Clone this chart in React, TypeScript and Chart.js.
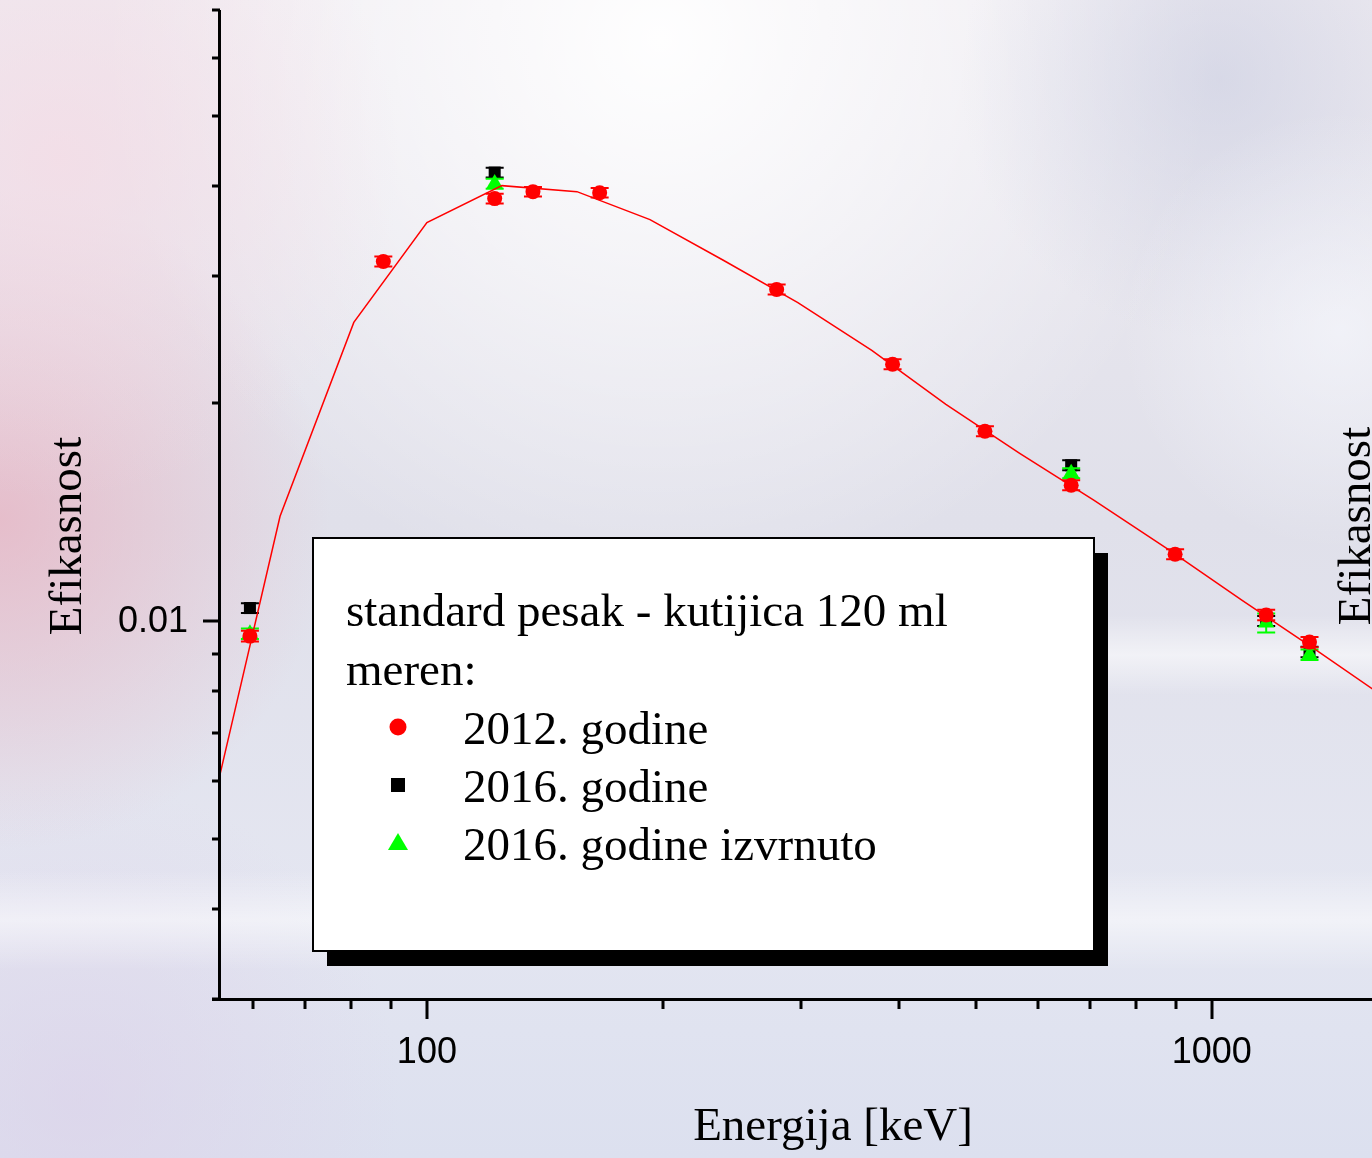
import React, { useEffect, useRef } from 'react';
import { Chart, registerables } from 'chart.js';

Chart.register(...registerables);

// ---- data ----
const energies2012 = [59.5, 88, 122, 136.5, 166, 279, 392, 514, 662, 898, 1173, 1332];
const eff2012 = [0.00953, 0.03142, 0.03839, 0.03925, 0.03912, 0.02874, 0.02265, 0.0183, 0.01541, 0.01237, 0.01019, 0.00935];
const err2012 = [0.00016, 0.0005, 0.0006, 0.0006, 0.0006, 0.00046, 0.00036, 0.00029, 0.00025, 0.0002, 0.00017, 0.00015];

const energies2016 = [59.5, 122, 662, 1173, 1332];
const eff2016 = [0.01042, 0.04171, 0.01642, 0.0100, 0.00906];
const err2016 = [0.00016, 0.00065, 0.00026, 0.00016, 0.00015];

const effFlipped = [0.0096, 0.04027, 0.01601, 0.00994, 0.00898];
const errFlipped = [0.00016, 0.00064, 0.00026, 0.0003, 0.00015];

const fitEnergies = [52.3, 65.0, 80.7, 100, 124.6, 155.3, 192.4, 238.9, 296.9, 368.8, 458.4, 569.2, 707.3, 879.0, 1092, 1357, 1686];
const fitEff = [0.00506, 0.01396, 0.02588, 0.03557, 0.04001, 0.03925, 0.03591, 0.03152, 0.02757, 0.02367, 0.01994, 0.01706, 0.01469, 0.01257, 0.01069, 0.00912, 0.00775];

const xMajorTicks = [100, 1000];
const xMajorLabels = ['100', '1000'];
const xMinorTicks = [60, 70, 80, 90, 200, 300, 400, 500, 600, 700, 800, 900];
const yMajorTicks = [0.01];
const yMajorLabels = ['0.01'];
const yMinorTicks = [0.003, 0.004, 0.005, 0.006, 0.007, 0.008, 0.009, 0.02, 0.03, 0.04, 0.05, 0.06, 0.07];

const xTitle = 'Energija [keV]';
const yTitle = 'Efikasnost';
const legendHeader = ['standard pesak - kutijica 120 ml', 'meren:'];
const legendItems = ['2012. godine', '2016. godine', '2016. godine izvrnuto'];

const RED = '#ff0000';
const GREEN = '#00ff00';
const BLACK = '#000000';

const SERIF = "'Liberation Serif', 'Times New Roman', serif";
const SANS = "'Liberation Sans', Arial, sans-serif";

function radial(ctx: CanvasRenderingContext2D, x: number, y: number, r: number, color: string, w: number, h: number) {
  const g = ctx.createRadialGradient(x, y, 0, x, y, r);
  g.addColorStop(0, color);
  g.addColorStop(1, color.replace(/[\d.]+\)$/, '0)'));
  ctx.fillStyle = g;
  ctx.fillRect(0, 0, w, h);
}

function paintBackground(ctx: CanvasRenderingContext2D, w: number, h: number) {
  const g = ctx.createLinearGradient(0, 0, 0, h);
  g.addColorStop(0, '#eeebf1');
  g.addColorStop(0.45, '#e0e0ea');
  g.addColorStop(0.78, '#e4e6f1');
  g.addColorStop(1, '#dce0ef');
  ctx.fillStyle = g;
  ctx.fillRect(0, 0, w, h);
  radial(ctx, 660, 40, 560, 'rgba(255,255,255,0.95)', w, h);
  radial(ctx, 0, 520, 330, 'rgba(232,175,190,0.7)', w, h);
  radial(ctx, 60, 160, 340, 'rgba(246,218,228,0.7)', w, h);
  radial(ctx, 1220, 80, 260, 'rgba(195,200,222,0.5)', w, h);
  radial(ctx, 1340, 330, 220, 'rgba(248,250,255,0.6)', w, h);
  radial(ctx, 80, 1100, 320, 'rgba(220,208,232,0.6)', w, h);
  // light bands
  let b = ctx.createLinearGradient(0, 870, 0, 970);
  b.addColorStop(0, 'rgba(255,255,255,0)');
  b.addColorStop(0.5, 'rgba(255,255,255,0.5)');
  b.addColorStop(1, 'rgba(255,255,255,0)');
  ctx.fillStyle = b;
  ctx.fillRect(0, 870, w, 100);
  b = ctx.createLinearGradient(0, 615, 0, 695);
  b.addColorStop(0, 'rgba(255,255,255,0)');
  b.addColorStop(0.5, 'rgba(255,255,255,0.55)');
  b.addColorStop(1, 'rgba(255,255,255,0)');
  ctx.fillStyle = b;
  ctx.fillRect(1100, 615, w - 1100, 80);
}

const decorPlugin = {
  id: 'decor',
  beforeDraw(chart: any) {
    const ctx = chart.ctx as CanvasRenderingContext2D;
    ctx.save();
    paintBackground(ctx, chart.width, chart.height);
    ctx.restore();
  },
  beforeDatasetDraw(chart: any, args: any) {
    const ds = chart.data.datasets[args.index];
    if (!ds.errors) return;
    const ctx = chart.ctx as CanvasRenderingContext2D;
    const xs = chart.scales.x;
    const ys = chart.scales.y;
    const a = chart.chartArea;
    ctx.save();
    ctx.beginPath();
    ctx.rect(a.left, a.top, a.right - a.left, a.bottom - a.top);
    ctx.clip();
    ctx.strokeStyle = ds.backgroundColor;
    ctx.lineWidth = 2;
    ds.data.forEach((p: any, i: number) => {
      const e = ds.errors[i];
      const x = xs.getPixelForValue(p.x);
      const yt = ys.getPixelForValue(p.y + e);
      const yb = ys.getPixelForValue(p.y - e);
      ctx.beginPath();
      ctx.moveTo(x, yt);
      ctx.lineTo(x, yb);
      ctx.moveTo(x - 9, yt);
      ctx.lineTo(x + 9, yt);
      ctx.moveTo(x - 9, yb);
      ctx.lineTo(x + 9, yb);
      ctx.stroke();
    });
    ctx.restore();
  },
  afterDraw(chart: any) {
    const ctx = chart.ctx as CanvasRenderingContext2D;
    const xs = chart.scales.x;
    const ys = chart.scales.y;
    const { left, right, top, bottom } = chart.chartArea;
    ctx.save();
    ctx.strokeStyle = BLACK;
    ctx.fillStyle = BLACK;
    ctx.lineWidth = 3;
    ctx.lineCap = 'butt';
    // axes
    ctx.beginPath();
    ctx.moveTo(left - 0.5, top);
    ctx.lineTo(left - 0.5, bottom + 2);
    ctx.moveTo(left - 8, bottom + 0.5);
    ctx.lineTo(right, bottom + 0.5);
    ctx.stroke();
    // y ticks
    ctx.beginPath();
    yMinorTicks.forEach((v) => {
      const y = Math.round(ys.getPixelForValue(v));
      ctx.moveTo(left - 8, y);
      ctx.lineTo(left, y);
    });
    yMajorTicks.forEach((v) => {
      const y = Math.round(ys.getPixelForValue(v));
      ctx.moveTo(left - 17, y);
      ctx.lineTo(left, y);
    });
    // x ticks
    xMinorTicks.forEach((v) => {
      const x = Math.round(xs.getPixelForValue(v));
      ctx.moveTo(x, bottom);
      ctx.lineTo(x, bottom + 10);
    });
    xMajorTicks.forEach((v) => {
      const x = Math.round(xs.getPixelForValue(v));
      ctx.moveTo(x, bottom);
      ctx.lineTo(x, bottom + 20);
    });
    ctx.stroke();

    // tick labels
    ctx.font = `36px ${SANS}`;
    ctx.textAlign = 'right';
    ctx.textBaseline = 'middle';
    yMajorTicks.forEach((v, i) => {
      ctx.fillText(yMajorLabels[i], left - 32, ys.getPixelForValue(v) + 1);
    });
    ctx.textAlign = 'center';
    ctx.textBaseline = 'alphabetic';
    xMajorTicks.forEach((v, i) => {
      ctx.fillText(xMajorLabels[i], xs.getPixelForValue(v), 1063);
    });

    // axis titles
    ctx.font = `47px ${SERIF}`;
    ctx.fillText(xTitle, 833, 1140);
    ctx.save();
    ctx.translate(81, 536);
    ctx.rotate(-Math.PI / 2);
    ctx.fillText(yTitle, 0, 0);
    ctx.restore();
    ctx.save();
    ctx.translate(1370, 526);
    ctx.rotate(-Math.PI / 2);
    ctx.fillText(yTitle, 0, 0);
    ctx.restore();

    // legend box
    const bx = 313, by = 538, bw = 781, bh = 413;
    ctx.fillStyle = BLACK;
    ctx.fillRect(bx + 14, by + 15, bw, bh);
    ctx.fillStyle = '#ffffff';
    ctx.fillRect(bx, by, bw, bh);
    ctx.lineWidth = 2;
    ctx.strokeStyle = BLACK;
    ctx.strokeRect(bx, by, bw, bh);

    ctx.fillStyle = BLACK;
    ctx.textAlign = 'left';
    ctx.font = `47px ${SERIF}`;
    ctx.fillText(legendHeader[0], 346, 626);
    ctx.fillText(legendHeader[1], 346, 685);
    const rows = [744, 802, 860];
    legendItems.forEach((t, i) => ctx.fillText(t, 463, rows[i]));
    // markers
    const mx = 398;
    ctx.fillStyle = RED;
    ctx.beginPath();
    ctx.arc(mx, 727, 8.5, 0, Math.PI * 2);
    ctx.fill();
    ctx.fillStyle = BLACK;
    ctx.fillRect(mx - 7, 785 - 7, 14, 14);
    ctx.fillStyle = GREEN;
    ctx.beginPath();
    ctx.moveTo(mx, 833);
    ctx.lineTo(mx + 10, 850);
    ctx.lineTo(mx - 10, 850);
    ctx.closePath();
    ctx.fill();
    ctx.restore();
  },
};

export default function App() {
  const ref = useRef<HTMLCanvasElement | null>(null);
  useEffect(() => {
    if (!ref.current) return;
    const chart = new Chart(ref.current, {
      type: 'scatter',
      data: {
        datasets: [
          {
            type: 'line',
            label: 'fit',
            data: fitEnergies.map((x, i) => ({ x, y: fitEff[i] })),
            borderColor: RED,
            backgroundColor: RED,
            borderWidth: 1.5,
            pointRadius: 0,
            showLine: true,
            fill: false,
            tension: 0,
            order: 0,
          },
          {
            label: legendItems[0],
            data: energies2012.map((x, i) => ({ x, y: eff2012[i] })),
            pointStyle: 'circle',
            pointRadius: 7.5,
            backgroundColor: RED,
            borderColor: RED,
            borderWidth: 0,
            order: 1,
            errors: err2012,
          } as any,
          {
            label: legendItems[2],
            data: energies2016.map((x, i) => ({ x, y: effFlipped[i] })),
            pointStyle: 'triangle',
            pointRadius: 9.5,
            backgroundColor: GREEN,
            borderColor: GREEN,
            borderWidth: 0,
            order: 2,
            errors: errFlipped,
          } as any,
          {
            label: legendItems[1],
            data: energies2016.map((x, i) => ({ x, y: eff2016[i] })),
            pointStyle: 'rect',
            pointRadius: 8.5,
            backgroundColor: BLACK,
            borderColor: BLACK,
            borderWidth: 0,
            order: 3,
            errors: err2016,
          } as any,
        ],
      },
      options: {
        animation: false,
        responsive: false,
        events: [],
        layout: { autoPadding: false, padding: { left: 220, top: 10, right: 0, bottom: 159 } },
        scales: {
          x: { type: 'logarithmic', min: 54.5, max: 1600, display: false },
          y: { type: 'logarithmic', min: 0.003, max: 0.07, display: false },
        },
        plugins: { legend: { display: false }, tooltip: { enabled: false } },
      },
      plugins: [decorPlugin],
    } as any);
    return () => chart.destroy();
  }, []);
  return (
    <div style={{ position: 'absolute', left: 0, top: 0, width: 1372, height: 1158, overflow: 'hidden' }}>
      <canvas ref={ref} width={1372} height={1158} style={{ display: 'block', width: 1372, height: 1158 }} />
    </div>
  );
}
